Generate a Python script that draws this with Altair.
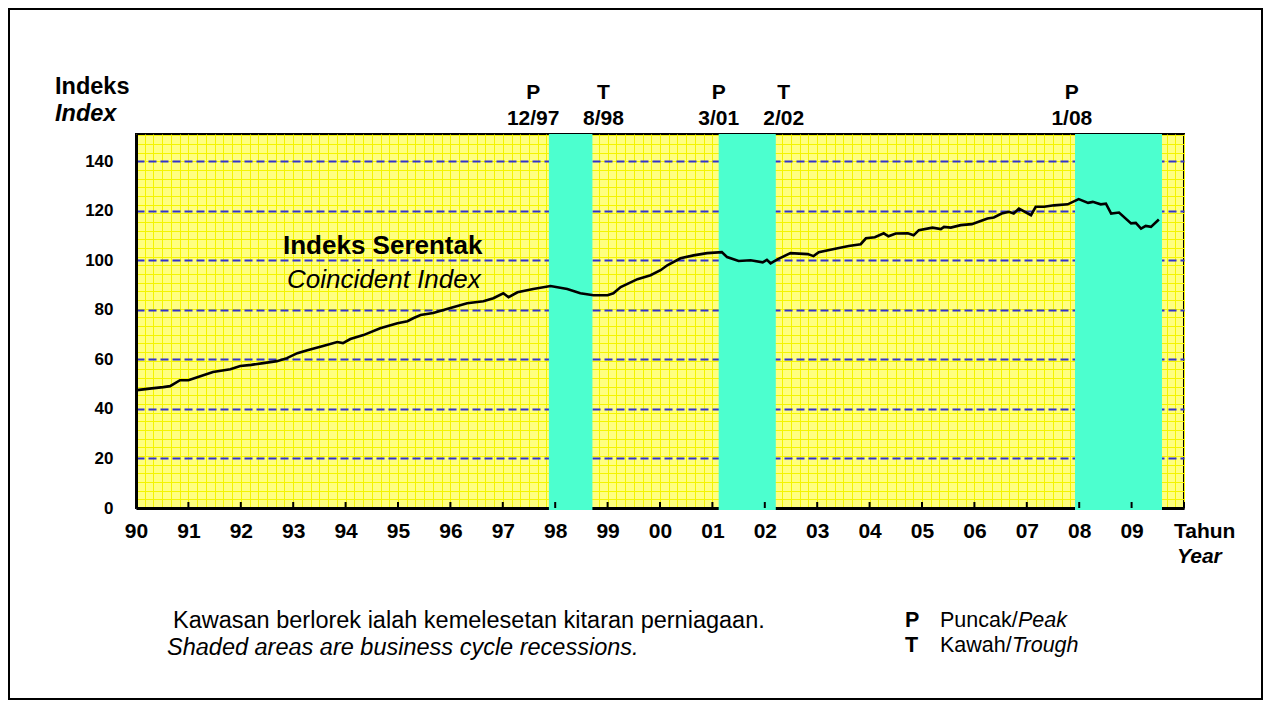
import altair as alt
import pandas as pd

FONT = "Liberation Sans"

# Coincident index (decimal year, index value)
years = [1990.02, 1990.3, 1990.52, 1990.65, 1990.84, 1991.0, 1991.17, 1991.47, 1991.80, 1991.99,
         1992.2, 1992.43, 1992.69, 1992.88, 1993.08, 1993.27, 1993.57, 1993.84, 1993.95, 1994.09,
         1994.34, 1994.66, 1994.99, 1995.18, 1995.29, 1995.43, 1995.67, 1996.0, 1996.32, 1996.63,
         1996.82, 1997.01, 1997.11, 1997.28, 1997.58, 1997.91, 1998.23, 1998.48, 1998.73, 1999.0,
         1999.11, 1999.25, 1999.57, 1999.82, 2000.01, 2000.14, 2000.39, 2000.64, 2000.90, 2001.18,
         2001.28, 2001.50, 2001.73, 2001.96, 2002.04, 2002.11, 2002.24, 2002.49, 2002.82, 2002.93,
         2003.03, 2003.39, 2003.6, 2003.83, 2003.93, 2004.1, 2004.27, 2004.36, 2004.5, 2004.73,
         2004.84, 2004.94, 2005.2, 2005.36, 2005.42, 2005.55, 2005.74, 2005.95, 2006.12, 2006.25,
         2006.37, 2006.52, 2006.66, 2006.75, 2006.85, 2007.08, 2007.17, 2007.33, 2007.52, 2007.78,
         2007.99, 2008.17, 2008.26, 2008.41, 2008.51, 2008.61, 2008.76, 2008.99, 2009.08, 2009.18,
         2009.27, 2009.37, 2009.52]
index_vals = [47.6, 48.3, 48.8, 49.2, 51.6, 51.6, 52.8, 54.9, 56.0, 57.3,
              57.8, 58.5, 59.3, 60.5, 62.5, 63.7, 65.4, 67.0, 66.6, 68.2,
              69.8, 72.6, 74.6, 75.4, 76.6, 77.9, 78.7, 80.7, 82.7, 83.5,
              84.7, 86.7, 85.1, 87.1, 88.4, 89.6, 88.4, 86.7, 85.9, 85.9,
              86.7, 89.2, 92.4, 94.0, 96.0, 98.0, 100.8, 102.0, 102.9, 103.3,
              101.3, 99.7, 100.0, 99.2, 100.2, 98.8, 100.4, 102.9, 102.5, 101.7,
              103.3, 104.9, 105.8, 106.5, 108.9, 109.3, 110.9, 109.7, 110.8, 110.9,
              110.1, 112.2, 113.2, 112.6, 113.5, 113.2, 114.2, 114.6, 115.9, 116.9,
              117.3, 118.9, 119.6, 118.9, 120.9, 118.2, 121.6, 121.6, 122.2, 122.6,
              124.7, 123.2, 123.6, 122.6, 122.9, 118.9, 119.3, 114.9, 115.1, 112.8,
              113.9, 113.5, 116.5]

# Recessions (peak -> trough)
rec_start = [1997.88, 2001.12, 2007.92]
rec_end = [1998.71, 2002.21, 2009.58]

# Peak / trough labels above the plot
label_x = [1997.58, 1998.92, 2001.12, 2002.36, 2007.86]
label_top = ["P", "T", "P", "T", "P"]
label_date = ["12/97", "8/98", "3/01", "2/02", "1/08"]

tick_years = list(range(1990, 2011))
y_ticks = [0, 20, 40, 60, 80, 100, 120, 140]

# fine background pattern grid (style only)
pattern_x = [1990 + k / 6 for k in range(0, 121)]
pattern_y = [k * 3.5 for k in range(0, 44)]

W, H = 1048, 374

df_line = pd.DataFrame({"t": years, "v": index_vals})
df_rec = pd.DataFrame({"s": rec_start, "e": rec_end})
df_lab = pd.DataFrame({"x": label_x, "top": label_top, "date": label_date})
df_ticks = pd.DataFrame({"t": tick_years})

xscale = alt.Scale(domain=[1990, 2010], nice=False, zero=False)
yscale = alt.Scale(domain=[0, 151], nice=False, zero=True)

pattern = alt.Chart(df_line).mark_point(opacity=0).encode(
    x=alt.X("t:Q", scale=xscale,
            axis=alt.Axis(orient="bottom", values=pattern_x, grid=True, gridColor="#f4f400",
                          gridWidth=1, labels=False, ticks=False, domain=False, title=None)),
    y=alt.Y("v:Q", scale=yscale,
            axis=alt.Axis(orient="left", values=pattern_y, grid=True, gridColor="#f4f400",
                          gridWidth=1, labels=False, ticks=False, domain=False, title=None)),
)

rects = alt.Chart(df_rec).mark_rect(color="#4cffcf").encode(
    x=alt.X("s:Q", scale=xscale, axis=None),
    x2="e:Q",
    y=alt.value(0),
    y2=alt.value(H + 2),
)

line = alt.Chart(df_line).mark_line(color="black", strokeWidth=2.6).encode(
    x=alt.X("t:Q", scale=xscale,
            axis=alt.Axis(orient="bottom", values=tick_years, grid=False, ticks=False,
                          domain=True, domainColor="black", domainWidth=3, labelFlush=False,
                          labelExpr="datum.value < 2010 ? substring(toString(datum.value), 2, 4) : ''",
                          labelFont=FONT, labelFontSize=21, labelFontWeight="bold",
                          labelColor="black", labelPadding=12, title=None)),
    y=alt.Y("v:Q", scale=yscale,
            axis=alt.Axis(orient="left", values=y_ticks, grid=True, gridColor="#3333cc",
                          gridWidth=2.2, gridDash=[8, 4], ticks=False, domain=True,
                          domainColor="black", domainWidth=3, labelFont=FONT,
                          labelFontSize=17, labelFontWeight="bold", labelColor="black",
                          labelPadding=23, title=None)),
)

ticks = alt.Chart(df_ticks).mark_rule(color="black", strokeWidth=2).encode(
    x=alt.X("t:Q", scale=xscale, axis=None),
    y=alt.value(H - 6),
    y2=alt.value(H),
)

lab_top = alt.Chart(df_lab).mark_text(font=FONT, fontSize=21, fontWeight="bold",
                                      color="black", align="center", baseline="alphabetic").encode(
    x=alt.X("x:Q", scale=xscale, axis=None), y=alt.value(-35), text="top:N")
lab_date = alt.Chart(df_lab).mark_text(font=FONT, fontSize=21, fontWeight="bold",
                                       color="black", align="center", baseline="alphabetic").encode(
    x=alt.X("x:Q", scale=xscale, axis=None), y=alt.value(-9), text="date:N")


def txt(s, x, y, size, weight="normal", style="normal", align="left"):
    return alt.Chart(pd.DataFrame({"s": [s]})).mark_text(
        text=s, font=FONT, fontSize=size, fontWeight=weight, fontStyle=style,
        align=align, baseline="alphabetic", color="black", clip=False
    ).encode(x=alt.value(x), y=alt.value(y))


texts = [
    txt("Indeks", -81, -40, 23.5, "bold"),
    txt("Index", -81, -13, 23.5, "bold", "italic"),
    txt("Indeks Serentak", 147, 120, 26, "bold"),
    txt("Coincident Index", 151, 154, 26, "normal", "italic"),
    txt("Tahun", 1038, 404, 21, "bold"),
    txt("Year", 1041, 429, 21, "bold", "italic"),
    txt("Kawasan berlorek ialah kemelesetan kitaran perniagaan.", 37, 494, 23.5),
    txt("Shaded areas are business cycle recessions.", 31, 521, 23.5, "normal", "italic"),
    txt("P", 769, 493, 21.5, "bold"),
    txt("Puncak/", 804, 493, 21.5),
    txt("Peak", 882, 493, 21.5, "normal", "italic"),
    txt("T", 769, 518, 21.5, "bold"),
    txt("Kawah/", 804, 518, 21.5),
    txt("Trough", 876, 518, 21.5, "normal", "italic"),
]

frame = alt.Chart(pd.DataFrame({"a": [0]})).mark_rect(
    filled=False, stroke="black", strokeWidth=2, clip=False
).encode(x=alt.value(-127), x2=alt.value(1126), y=alt.value(-125), y2=alt.value(565))

chart = alt.layer(pattern, rects, line, ticks, lab_top, lab_date, *texts, frame).resolve_axis(
    x="independent", y="independent"
).properties(
    width=W, height=H,
    padding={"left": 128, "top": 126, "right": 79, "bottom": 192},
    autosize=alt.AutoSizeParams(type="none"),
    background="white",
).configure_view(fill="#ffff80", stroke="black", strokeWidth=2)

chart.save("out.html", embed_options={"renderer": "svg", "actions": False})
